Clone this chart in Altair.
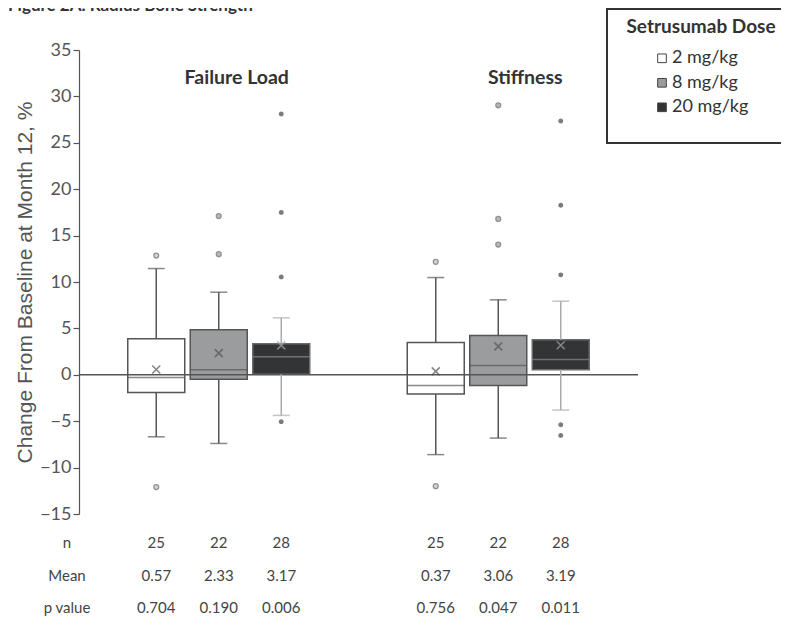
import altair as alt
import pandas as pd

# ---------------- data ----------------
groups = ["Failure Load", "Stiffness"]
doses = ["2 mg/kg", "8 mg/kg", "20 mg/kg"]

fl_q1 = [-1.9, -0.47, 0.07]
fl_median = [-0.29, 0.54, 1.94]
fl_q3 = [3.88, 4.85, 3.34]
fl_whisker_low = [-6.68, -7.4, -4.38]
fl_whisker_high = [11.45, 8.9, 6.14]
fl_mean = [0.57, 2.33, 3.17]
fl_n = [25, 22, 28]
fl_p = ["0.704", "0.190", "0.006"]
fl_outliers = [[12.85, -12.1], [17.1, 13.0], [28.1, 17.5, 10.55, -5.05]]

st_q1 = [-2.08, -1.15, 0.54]
st_median = [-1.15, 1.0, 1.65]
st_q3 = [3.48, 4.24, 3.77]
st_whisker_low = [-8.6, -6.82, -3.8]
st_whisker_high = [10.48, 8.08, 7.93]
st_mean = [0.37, 3.06, 3.19]
st_n = [25, 22, 28]
st_p = ["0.756", "0.047", "0.011"]
st_outliers = [[12.17, -12.0], [29.04, 16.8, 14.03], [27.35, 18.27, 10.77, -5.38, -6.53]]

y_ticks = [-15, -10, -5, 0, 5, 10, 15, 20, 25, 30, 35]
row_labels = ["n", "Mean", "p value"]

# ---------------- tables for the library ----------------
box_rows = []
for g, q1, med, q3, lo, hi, mn in [
    ("Failure Load", fl_q1, fl_median, fl_q3, fl_whisker_low, fl_whisker_high, fl_mean),
    ("Stiffness", st_q1, st_median, st_q3, st_whisker_low, st_whisker_high, st_mean),
]:
    for i, d in enumerate(doses):
        box_rows.append(dict(group=g, dose=d, q1=q1[i], median=med[i], q3=q3[i],
                             lo=lo[i], hi=hi[i], mean=mn[i]))
box_df = pd.DataFrame(box_rows)

out_rows = []
for g, outs in [("Failure Load", fl_outliers), ("Stiffness", st_outliers)]:
    for i, d in enumerate(doses):
        for v in outs[i]:
            out_rows.append(dict(group=g, dose=d, value=v))
out_df = pd.DataFrame(out_rows)

tab_rows = []
for g, ns, ms, ps in [("Failure Load", fl_n, fl_mean, fl_p), ("Stiffness", st_n, st_mean, st_p)]:
    for i, d in enumerate(doses):
        tab_rows.append(dict(group=g, dose=d, row="n", text=str(ns[i])))
        tab_rows.append(dict(group=g, dose=d, row="Mean", text=f"{ms[i]:.2f}"))
        tab_rows.append(dict(group=g, dose=d, row="p value", text=ps[i]))
tab_df = pd.DataFrame(tab_rows)
lab_df = pd.DataFrame({"row": row_labels})
grp_df = pd.DataFrame({"group": groups})
dose_df = pd.DataFrame({"dose": doses})
one = pd.DataFrame({"a": [0]})

# ---------------- scales / styles ----------------
FONT = "Lato"
GREY = "#555555"
x_enc = alt.X("group:N", scale=alt.Scale(domain=groups, paddingInner=0, paddingOuter=0), axis=None)
xo_enc = alt.XOffset("dose:N", scale=alt.Scale(domain=doses, paddingInner=0.088, paddingOuter=0.78))
yscale = alt.Scale(domain=[-15, 35], nice=False, zero=False)
fill_scale = alt.Scale(domain=doses, range=["#ffffff", "#9b9c9e", "#323436"])
is20 = alt.datum.dose == "20 mg/kg"
is2 = alt.datum.dose == "2 mg/kg"

y_axis = alt.Axis(
    values=y_ticks, title="Change From Baseline at Month 12, %", grid=False,
    labelFont=FONT, labelFontSize=18, labelColor=GREY, tickColor=GREY, domainColor=GREY,
    tickSize=6, labelPadding=2, domainWidth=1.2, tickWidth=1.2,
    titleFont="Liberation Sans", titleFontSize=21, titleColor=GREY, titleFontWeight="normal",
    titlePadding=4,
)

base = alt.Chart(box_df).encode(x=x_enc, xOffset=xo_enc)

boxes = base.mark_bar(strokeWidth=1.5).encode(
    y=alt.Y("q1:Q", scale=yscale, axis=y_axis),
    y2="q3:Q",
    fill=alt.Fill("dose:N", scale=fill_scale, legend=None),
    stroke=alt.when(is20).then(alt.value("#6a6a6a")).otherwise(alt.value(GREY)),
)
whisk_lo = base.mark_rule(strokeWidth=1.5).encode(
    y=alt.Y("lo:Q", scale=yscale), y2="q1:Q",
    stroke=alt.when(is20).then(alt.value("#ababab")).otherwise(alt.value(GREY)))
whisk_hi = base.mark_rule(strokeWidth=1.5).encode(
    y=alt.Y("q3:Q", scale=yscale), y2="hi:Q",
    stroke=alt.when(is20).then(alt.value("#ababab")).otherwise(alt.value(GREY)))
cap_lo = base.mark_tick(size=17, thickness=1.5).encode(
    y=alt.Y("lo:Q", scale=yscale),
    color=alt.when(is20).then(alt.value("#ababab")).otherwise(alt.value(GREY)))
cap_hi = base.mark_tick(size=17, thickness=1.5).encode(
    y=alt.Y("hi:Q", scale=yscale),
    color=alt.when(is20).then(alt.value("#ababab")).otherwise(alt.value(GREY)))
medians = base.mark_tick(size=57, thickness=1.5).encode(
    y=alt.Y("median:Q", scale=yscale),
    color=alt.when(is20).then(alt.value("#8c8c8c")).otherwise(alt.value(GREY)))
means = base.mark_point(shape="M-1,-1L1,1M-1,1L1,-1", filled=False, size=64, strokeWidth=1.6).encode(
    y=alt.Y("mean:Q", scale=yscale),
    stroke=alt.when(is20).then(alt.value("#a8a8a8")).otherwise(alt.value(GREY)))
outliers = alt.Chart(out_df).mark_point(shape="circle", filled=True, strokeWidth=1.3).encode(
    x=x_enc, xOffset=xo_enc,
    y=alt.Y("value:Q", scale=yscale),
    fill=alt.when(is20).then(alt.value("#444444")).when(is2).then(alt.value("#c4c4c4")).otherwise(alt.value("#9a9a9a")),
    stroke=alt.when(is20).then(alt.value("#444444")).otherwise(alt.value("#666666")),
    size=alt.when(is20).then(alt.value(13)).otherwise(alt.value(24)),
)
zero = alt.Chart(one).transform_calculate(zero_line="0").mark_rule(color=GREY, strokeWidth=1.5).encode(
    y=alt.Y("zero_line:Q", scale=yscale))


def group_title(name, shift):
    return alt.Chart(grp_df).transform_filter(alt.datum.group == name).mark_text(
        font=FONT, fontSize=19.5, fontWeight="bold", color="#333333", baseline="middle", dx=shift
    ).encode(x=x_enc, y=alt.value(28), text="group:N")


titles = alt.layer(group_title("Failure Load", 18), group_title("Stiffness", 27))

main = alt.layer(boxes, zero, whisk_lo, whisk_hi, cap_lo, cap_hi, medians, means, outliers, titles)

row_scale = alt.Scale(type="point", domain=row_labels, range=[493.3, 558], padding=0)
table_vals = alt.Chart(tab_df).mark_text(font=FONT, fontSize=15, color="#444444", baseline="middle").encode(
    x=x_enc, xOffset=xo_enc, y=alt.Y("row:N", scale=row_scale, axis=None), text="text:N")
table_labs = alt.Chart(lab_df).mark_text(font=FONT, fontSize=15, color="#444444", baseline="middle").encode(
    x=alt.value(-12), y=alt.Y("row:N", scale=row_scale, axis=None), text="row:N")
table = alt.layer(table_vals, table_labs)

leg_scale = alt.Scale(type="point", domain=doses, range=[8.3, 57.3], padding=0)
leg_box = alt.Chart(one).mark_rect(fill="white", stroke="#333333", strokeWidth=2).encode(
    x=alt.value(528), x2=alt.value(740), y=alt.value(-41), y2=alt.value(93))
leg_title = alt.Chart(one).mark_text(text="Setrusumab Dose", font=FONT, fontSize=19, fontWeight="bold",
                                     color="#333333", baseline="middle").encode(
    x=alt.value(622), y=alt.value(-23))
leg_sym = alt.Chart(dose_df).mark_square(size=75, stroke="#444444", strokeWidth=1, opacity=1).encode(
    x=alt.value(583), y=alt.Y("dose:N", scale=leg_scale, axis=None),
    fill=alt.Fill("dose:N", scale=fill_scale, legend=None))
leg_lab = alt.Chart(dose_df).mark_text(font=FONT, fontSize=18, color="#333333", align="left",
                                       baseline="middle").encode(
    x=alt.value(593), y=alt.Y("dose:N", scale=leg_scale, axis=None), text="dose:N")
legend = alt.layer(leg_box, leg_title, leg_sym, leg_lab)

fig_title = alt.Chart(one).mark_text(text="Figure 2A. Radius Bone Strength", font=FONT, fontSize=17,
                                     fontWeight="bold", color="#333333", align="left",
                                     baseline="alphabetic").encode(
    x=alt.value(-71), y=alt.value(-39))

chart = alt.layer(main, table, legend, fig_title).resolve_scale(y="independent").properties(
    width=559, height=464,
    padding={"left": 71, "top": 42, "right": 143, "bottom": 103},
    autosize=alt.AutoSizeParams(type="none"),
    background="white",
).configure_view(stroke=None)

chart.save("out.html", embed_options={"renderer": "svg", "actions": False})
